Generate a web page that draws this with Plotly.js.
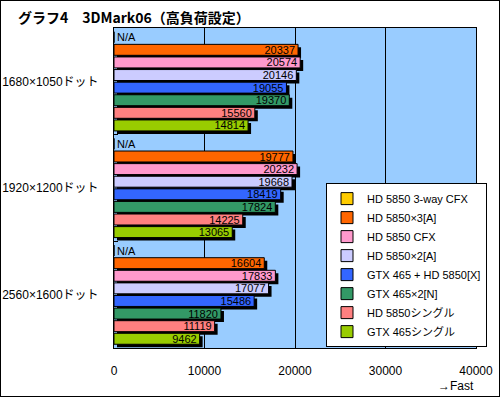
<!DOCTYPE html>
<html>
<head>
<meta charset="utf-8">
<script src="https://cdn.plot.ly/plotly-3.0.1.min.js"></script>
<style>
html,body{margin:0;padding:0;background:#fff;}
#wrap{width:500px;height:397px;border:1px solid #000;box-sizing:border-box;}
#chart{width:498px;height:395px;}
</style>
</head>
<body>
<div id="wrap"><div id="chart"></div></div>
<script>
const categories = ['1680×1050ドット', '1920×1200ドット', '2560×1600ドット'];
const seriesNames = ['HD 5850 3-way CFX', 'HD 5850×3[A]', 'HD 5850 CFX', 'HD 5850×2[A]',
  'GTX 465 + HD 5850[X]', 'GTX 465×2[N]', 'HD 5850シングル', 'GTX 465シングル'];
const hd5850_3way   = [null, null, null];
const hd5850x3A     = [20337, 19777, 16604];
const hd5850cfx     = [20574, 20232, 17833];
const hd5850x2A     = [20146, 19668, 17077];
const gtx465hd5850X = [19055, 18419, 15486];
const gtx465x2N     = [19370, 17824, 11820];
const hd5850single  = [15560, 14225, 11119];
const gtx465single  = [14814, 13065, 9462];
const xTicks = [0, 10000, 20000, 30000, 40000];
const xTickLabels = ['0', '10000', '20000', '30000', '40000'];

const seriesValues = [hd5850_3way, hd5850x3A, hd5850cfx, hd5850x2A, gtx465hd5850X, gtx465x2N, hd5850single, gtx465single];
const colors = ['#FFCC00', '#FF6600', '#FF99CC', '#CCCCFF', '#3366FF', '#339966', '#FF8080', '#99CC00'];

const W = 498, H = 395;
const M = {l: 113, r: 23, t: 27, b: 45};
const plotW = W - M.l - M.r;
const plotH = H - M.t - M.b;
const sh = 3; // shadow offset px
const xMax = 40000;
const shiftUnits = xMax * sh / plotW;
const dy = sh / plotH;
const FONT = '"Liberation Sans", "Noto Sans CJK JP", sans-serif';
const JFONT = '"Noto Sans CJK JP", sans-serif';

const traces = [];
// shadows (drawn first, behind)
seriesValues.forEach((vals, i) => {
  traces.push({
    type: 'bar', orientation: 'h',
    y: categories, x: vals,
    xaxis: 'x', yaxis: 'y',
    marker: {color: '#000000', line: {width: 0}},
    showlegend: false, hoverinfo: 'skip', name: seriesNames[i] + ' shadow'
  });
});
// main bars
seriesValues.forEach((vals, i) => {
  const isNA = vals.every(v => v === null);
  traces.push({
    type: 'bar', orientation: 'h',
    y: categories,
    x: vals.map(v => v === null ? 0 : v),
    xaxis: 'x2', yaxis: 'y2',
    name: seriesNames[i],
    marker: {color: colors[i], line: {color: '#000000', width: 1}},
    text: vals.map(v => v === null ? 'N/A' : String(v)),
    textposition: isNA ? 'outside' : 'inside',
    insidetextanchor: 'end',
    constraintext: 'none',
    cliponaxis: false,
    textfont: {color: '#000000', size: 11, family: FONT},
    insidetextfont: {color: '#000000', size: 11, family: FONT},
    outsidetextfont: {color: '#000000', size: 11, family: FONT}
  });
});

const layout = {
  width: W, height: H,
  margin: M,
  paper_bgcolor: '#ffffff',
  plot_bgcolor: 'rgba(0,0,0,0)',
  font: {family: FONT, size: 12, color: '#000000'},
  barmode: 'group',
  bargap: 0.055,
  bargroupgap: 0.13,
  title: {
    text: '<b>グラフ4　3DMark06（高負荷設定）</b>',
    font: {family: JFONT, size: 14, color: '#000000'},
    x: 17 / 500, xanchor: 'left', xref: 'container',
    y: 1 - 17 / 397, yanchor: 'middle', yref: 'container'
  },
  xaxis: {
    domain: [0, 1], anchor: 'y',
    range: [-shiftUnits, xMax - shiftUnits],
    visible: false, fixedrange: true
  },
  yaxis: {
    domain: [0, 1 - dy], anchor: 'x',
    type: 'category', categoryorder: 'array', categoryarray: categories,
    autorange: 'reversed', visible: false, fixedrange: true
  },
  xaxis2: {
    domain: [0, 1], anchor: 'y2',
    range: [0, xMax],
    tickvals: xTicks, ticktext: xTickLabels,
    showgrid: true, gridcolor: '#000000', gridwidth: 1,
    zeroline: false,
    showline: true, linecolor: '#000000', linewidth: 1, mirror: true,
    ticks: '', ticklabelstandoff: 12,
    tickfont: {family: FONT, size: 12, color: '#000000'},
    fixedrange: true
  },
  yaxis2: {
    domain: [dy, 1], anchor: 'x2',
    type: 'category', categoryorder: 'array', categoryarray: categories,
    autorange: 'reversed',
    showgrid: false, zeroline: false,
    showline: true, linecolor: '#000000', linewidth: 1, mirror: true,
    ticks: 'inside', tickson: 'boundaries', ticklen: 4, tickcolor: '#000000',
    ticklabelstandoff: 12,
    tickfont: {family: FONT, size: 12, color: '#000000'},
    fixedrange: true
  },
  shapes: [{
    type: 'rect', layer: 'below',
    xref: 'x2 domain', yref: 'y2 domain',
    x0: 0, x1: 1, y0: 0, y1: 1,
    fillcolor: '#99CCFF', line: {width: 0}
  }],
  legend: {
    x: (326 - M.l - 1) / plotW, xanchor: 'left',
    y: 0.012, yanchor: 'bottom',
    bgcolor: '#ffffff', bordercolor: '#000000', borderwidth: 1,
    font: {family: FONT, size: 11, color: '#000000'},
    itemwidth: 30,
    tracegroupgap: 0, traceorder: 'normal'
  },
  annotations: [{
    text: '→Fast', showarrow: false,
    xref: 'paper', yref: 'paper',
    x: 1, xanchor: 'right',
    y: -(377 - 1 - M.t - plotH) / plotH, yanchor: 'top',
    font: {family: FONT, size: 12, color: '#000000'}
  }]
};

Plotly.newPlot('chart', traces, layout, {displayModeBar: false, staticPlot: true});
</script>
</body>
</html>
